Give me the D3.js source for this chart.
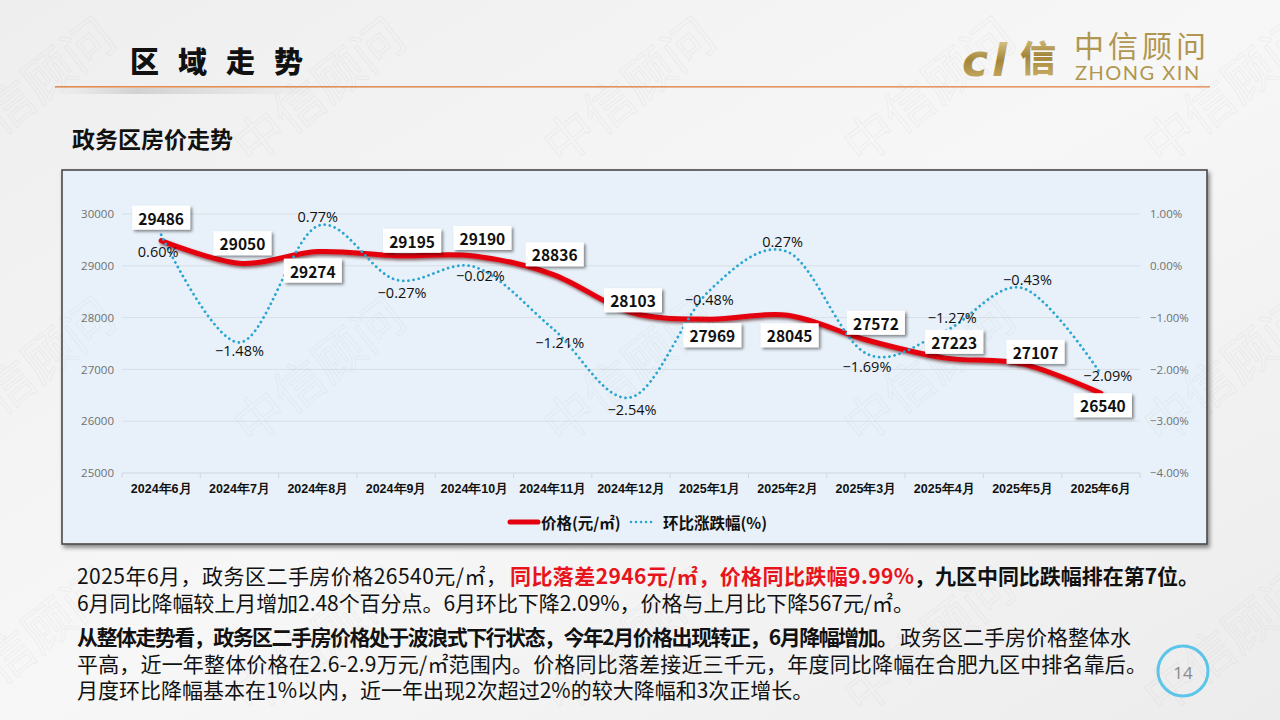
<!DOCTYPE html>
<html><head><meta charset="utf-8">
<script src="https://cdn.jsdelivr.net/npm/d3@7/dist/d3.min.js"></script>
<style>
html,body{margin:0;padding:0;width:1280px;height:720px;overflow:hidden;background:#f3f3f3;}
svg{display:block;font-family:"Noto Sans CJK SC","Noto Sans",sans-serif;}
</style></head>
<body>
<svg id="c" width="1280" height="720"></svg>
<script>
// ---------- data ----------
const months = ["2024年6月","2024年7月","2024年8月","2024年9月","2024年10月","2024年11月","2024年12月","2025年1月","2025年2月","2025年3月","2025年4月","2025年5月","2025年6月"];
const price = [29486,29050,29274,29195,29190,28836,28103,27969,28045,27572,27223,27107,26540];
const mom = [0.60,-1.48,0.77,-0.27,-0.02,-1.21,-2.54,-0.48,0.27,-1.69,-1.27,-0.43,-2.09];
const leftTicks = [25000,26000,27000,28000,29000,30000];
const rightTicks = [-4,-3,-2,-1,0,1];
const seriesNames = ["价格(元/㎡)","环比涨跌幅(%)"];

// label placement offsets (px, relative to data point)
const priceLabelOff = [[0,-23],[3,-20],[-5,19],[16,-15],[8,-18],[2,-20],[2,-12],[3,16],[2,20],[10,-17],[10,-16],[13,-12],[2,12]];
const momLabelOff = [[-3,17],[0,8],[0,-9],[6,13],[6,9],[7,14],[1,12],[0,9],[-5,-10],[1,13],[8,-14],[5,-9],[7,1]];

const svg = d3.select("#c");
const defs = svg.append("defs");

// background gradient
const bg = defs.append("linearGradient").attr("id","bg").attr("x1","0").attr("y1","0").attr("x2","1").attr("y2","1");
bg.append("stop").attr("offset","0").attr("stop-color","#eeeeee");
bg.append("stop").attr("offset","0.5").attr("stop-color","#f7f7f7");
bg.append("stop").attr("offset","1").attr("stop-color","#ececec");
svg.append("rect").attr("width",1280).attr("height",720).attr("fill","url(#bg)");

const gold = defs.append("linearGradient").attr("id","gold").attr("x1","0").attr("y1","0").attr("x2","0").attr("y2","1");
gold.append("stop").attr("offset","0").attr("stop-color","#e6d59c");
gold.append("stop").attr("offset","0.5").attr("stop-color","#a4863a");
gold.append("stop").attr("offset","1").attr("stop-color","#d0b66e");

const sh = defs.append("filter").attr("id","boxsh").attr("x","-10%").attr("y","-10%").attr("width","130%").attr("height","140%");
sh.append("feDropShadow").attr("dx",2).attr("dy",2).attr("stdDeviation",1.5).attr("flood-color","#000").attr("flood-opacity",0.45);
const lsh = defs.append("filter").attr("id","linesh").attr("x","-5%").attr("y","-20%").attr("width","110%").attr("height","140%");
lsh.append("feDropShadow").attr("dx",1.5).attr("dy",2).attr("stdDeviation",1.5).attr("flood-color","#400").attr("flood-opacity",0.6);
const csh = defs.append("filter").attr("id","chartsh").attr("x","-5%").attr("y","-5%").attr("width","110%").attr("height","110%");
csh.append("feDropShadow").attr("dx",2).attr("dy",3).attr("stdDeviation",2).attr("flood-color","#000").attr("flood-opacity",0.45);

// header
svg.append("text").attr("x",130).attr("y",73).attr("font-size",29).attr("font-weight","900").attr("fill","#111")
  .attr("letter-spacing","19px").text("区域走势");
const hl = defs.append("linearGradient").attr("id","hl").attr("x1","0").attr("x2","1");
hl.append("stop").attr("offset","0").attr("stop-color","#e08a50");
hl.append("stop").attr("offset","1").attr("stop-color","#e89a6a");
svg.append("rect").attr("x",55).attr("y",86).attr("width",1155).attr("height",1.6).attr("fill","url(#hl)");
const hs = defs.append("linearGradient").attr("id","hs").attr("x1","0").attr("x2","1");
hs.append("stop").attr("offset","0").attr("stop-color","#aaa").attr("stop-opacity",0);
hs.append("stop").attr("offset","0.3").attr("stop-color","#999").attr("stop-opacity",0.35);
hs.append("stop").attr("offset","1").attr("stop-color","#aaa").attr("stop-opacity",0);
svg.append("rect").attr("x",55).attr("y",88).attr("width",270).attr("height",6).attr("fill","url(#hs)");

// logo
const logo = svg.append("g");
logo.append("text").attr("x",962).attr("y",76).attr("font-size",44).attr("font-style","italic").attr("font-weight","bold")
  .attr("fill","url(#gold)").attr("font-family","'DejaVu Sans'").text("c");
logo.append("text").attr("x",992).attr("y",76).attr("font-size",44).attr("font-style","italic").attr("font-weight","bold")
  .attr("fill","url(#gold)").attr("font-family","'DejaVu Sans'").text("l");
logo.append("text").attr("x",1020).attr("y",72).attr("font-size",36).attr("font-weight","900").attr("fill","url(#gold)").text("信");
logo.append("text").attr("x",1074).attr("y",57).attr("font-size",30).attr("fill","#b0964f").attr("letter-spacing","4px").text("中信顾问");
logo.append("text").attr("x",1075).attr("y",80).attr("font-size",20).attr("fill","#b0964f").attr("letter-spacing","1.5px")
  .attr("font-family","Lato,'Open Sans',sans-serif").text("ZHONG XIN");

// subtitle
svg.append("text").attr("x",72).attr("y",148).attr("font-size",23).attr("font-weight","bold").attr("fill","#111").text("政务区房价走势");

// chart panel
svg.append("rect").attr("x",62).attr("y",170).attr("width",1145).attr("height",374)
  .attr("fill","#e8f1f9").attr("stroke","#4a4a4a").attr("stroke-width",1.6).attr("filter","url(#chartsh)");

// scales
const x = d3.scaleBand().domain(months).range([122,1140]);
const yL = d3.scaleLinear().domain([25000,30000]).range([473,214]);
const yR = d3.scaleLinear().domain([-4,1]).range([473,214]);
const cx = d => x(d) + x.bandwidth()/2;

// grid + axes
const gGrid = svg.append("g");
gGrid.selectAll("line").data(leftTicks).join("line")
  .attr("x1",122).attr("x2",1140).attr("y1",d=>yL(d)).attr("y2",d=>yL(d))
  .attr("stroke",d=>d===25000?"#cfd6de":"#d8dee5").attr("stroke-width",1);

const axL = svg.append("g").attr("transform","translate(122,0)")
  .call(d3.axisLeft(yL).tickValues(leftTicks).tickSize(0).tickPadding(8).tickFormat(d3.format("d")));
axL.select(".domain").remove();
axL.selectAll("text").attr("font-size",11.5).attr("fill","#707070").attr("font-family","'Open Sans','Noto Sans',sans-serif");

const axR = svg.append("g").attr("transform","translate(1140,0)")
  .call(d3.axisRight(yR).tickValues(rightTicks).tickSize(0).tickPadding(10).tickFormat(d=>d3.format(".2f")(d)+"%"));
axR.select(".domain").remove();
axR.selectAll("text").attr("font-size",11.5).attr("fill","#707070").attr("font-family","'Open Sans','Noto Sans',sans-serif");

const axB = svg.append("g").attr("transform","translate(0,473)")
  .call(d3.axisBottom(x).tickSize(0).tickPadding(11));
axB.select(".domain").remove();
axB.selectAll("text").attr("font-size",12.5).attr("font-weight","bold").attr("fill","#111");
svg.append("g").selectAll("line").data(d3.range(months.length+1)).join("line")
  .attr("x1",i=>122+i*x.step()).attr("x2",i=>122+i*x.step()).attr("y1",473).attr("y2",478)
  .attr("stroke","#cfd6de");

// lines
const curve = d3.curveCardinal.tension(0);
const priceLine = d3.line().x((d,i)=>cx(months[i])).y(d=>yL(d)).curve(curve);
const momLine = d3.line().x((d,i)=>cx(months[i])).y(d=>yR(d)).curve(curve);

svg.append("path").attr("d",priceLine(price)).attr("fill","none").attr("stroke","#e4000f")
  .attr("stroke-width",5).attr("stroke-linecap","round").attr("filter","url(#linesh)");
svg.append("path").attr("d",momLine(mom)).attr("fill","none").attr("stroke","#29a6d1")
  .attr("stroke-width",2.8).attr("stroke-linecap","round").attr("stroke-dasharray","0.01 5.2");

// mom labels
svg.append("g").selectAll("text").data(mom).join("text")
  .attr("x",(d,i)=>cx(months[i])+momLabelOff[i][0])
  .attr("y",(d,i)=>yR(d)+momLabelOff[i][1])
  .attr("text-anchor","middle").attr("dominant-baseline","central")
  .attr("font-size",14.5).attr("fill","#111").attr("font-family","'Open Sans','Noto Sans',sans-serif")
  .text(d=>d3.format(".2f")(d)+"%");

// price labels in boxes
const pl = svg.append("g").selectAll("g").data(price).join("g")
  .attr("transform",(d,i)=>`translate(${cx(months[i])+priceLabelOff[i][0]},${yL(d)+priceLabelOff[i][1]})`);
pl.append("rect").attr("x",-29).attr("y",-12).attr("width",58).attr("height",24).attr("fill","#fff").attr("filter","url(#boxsh)");
pl.append("text").attr("text-anchor","middle").attr("dominant-baseline","central")
  .attr("font-size",15.5).attr("font-weight","bold").attr("fill","#111").text(d=>d);

// legend
const lg = svg.append("g").attr("transform","translate(0,522)");
lg.append("line").attr("x1",510).attr("x2",538).attr("y1",0).attr("y2",0).attr("stroke","#e4000f").attr("stroke-width",5).attr("stroke-linecap","round");
lg.append("text").attr("x",541).attr("y",0).attr("dominant-baseline","central").attr("font-size",15.5).attr("font-weight","bold").attr("fill","#111").text(seriesNames[0]);
lg.append("line").attr("x1",631).attr("x2",656).attr("y1",0).attr("y2",0).attr("stroke","#29a6d1").attr("stroke-width",2.6).attr("stroke-linecap","round").attr("stroke-dasharray","0.01 5");
lg.append("text").attr("x",663).attr("y",0).attr("dominant-baseline","central").attr("font-size",15.5).attr("font-weight","bold").attr("fill","#111").text(seriesNames[1]);

// body text (segments: text, bold, colour, x-start, x-end)
const body = svg.append("g").attr("font-size",21).attr("fill","#111");
function seg(y, parts){
  parts.forEach(p=>{
    const t = body.append("text").attr("x",p[3]).attr("y",y)
      .attr("font-weight",p[1]?"bold":"normal").attr("fill",p[2]||"#111").text(p[0]);
    if(p[4]) t.attr("textLength",p[4]-p[3]).attr("lengthAdjust","spacing");
  });
}
seg(584,[["2025年6月，政务区二手房价格26540元/㎡，",false,null,77,507],["同比落差2946元/㎡，价格同比跌幅9.99%",true,"#e8141c",510,914],["，九区中同比跌幅排在第7位。",true,null,914,1199]]);
seg(611,[["6月同比降幅较上月增加2.48个百分点。6月环比下降2.09%，价格与上月比下降567元/㎡。",false,null,77,914]]);
seg(645,[["从整体走势看，政务区二手房价格处于波浪式下行状态，今年2月价格出现转正，6月降幅增加。",true,null,77,898],["政务区二手房价格整体水",false,null,900,null]]);
seg(672,[["平高，近一年整体价格在2.6-2.9万元/㎡范围内。价格同比落差接近三千元，年度同比降幅在合肥九区中排名靠后。",false,null,77,1147]]);
seg(698,[["月度环比降幅基本在1%以内，近一年出现2次超过2%的较大降幅和3次正增长。",false,null,77,null]]);

// page number
svg.append("circle").attr("cx",1183).attr("cy",671).attr("r",25).attr("fill","none").attr("stroke","#5cc6ea").attr("stroke-width",3);
svg.append("text").attr("x",1183).attr("y",672).attr("text-anchor","middle").attr("dominant-baseline","central")
  .attr("font-size",17).attr("fill","#8a8a8a").attr("font-family","'Open Sans',sans-serif").text("14");

// watermarks (faint, on top)
const wm = svg.append("g").attr("pointer-events","none");
const wx = [40,330,640,940,1240], wy = [105,385,655];
wy.forEach(yy=>wx.forEach(xx=>{
  wm.append("text").attr("transform",`translate(${xx},${yy}) rotate(-38)`).attr("text-anchor","middle")
    .attr("font-size",50).attr("fill","none").attr("stroke","#888").attr("stroke-opacity",0.08).attr("stroke-width",1).text("中信顾问");
}));
</script>
</body></html>
